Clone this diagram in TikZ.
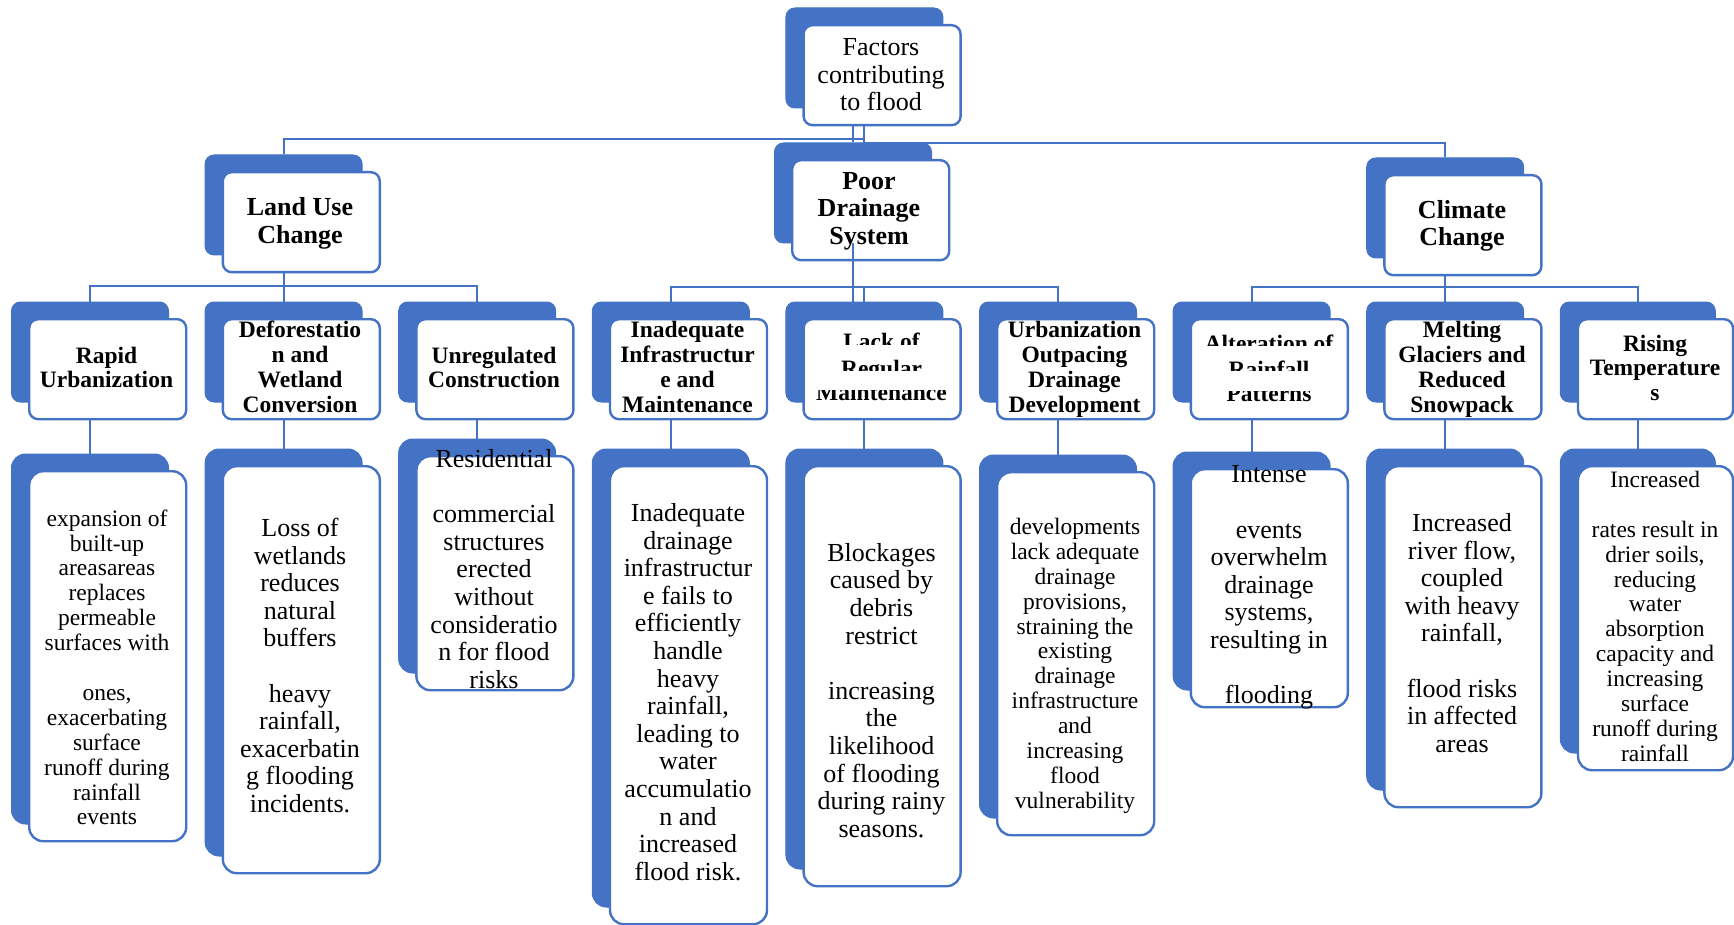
\documentclass[tikz,border=0pt]{standalone}
\usepackage{fontspec}
\setmainfont{Liberation Serif}
\definecolor{sablue}{HTML}{4472C4}
\tikzset{
  backbox/.style={draw=sablue, fill=sablue, line width=1pt, inner sep=0pt, anchor=north west},
  frontbox/.style={draw=sablue, fill=white, line width=2.4pt, inner sep=0pt, anchor=north west},
  link/.style={draw=sablue, line width=2pt},
  txt/.style={align=center, inner sep=0pt, text=black,
    execute at begin node=\strut, execute at end node=\strut},
  roottext/.style={txt, font=\fontsize{26}{27.6}\selectfont},
  headtext/.style={txt, font=\bfseries\fontsize{26}{27.6}\selectfont},
  subtext/.style={txt, font=\bfseries\fontsize{23.5}{24.8}\selectfont},
  descbig/.style={txt, font=\fontsize{26}{27.6}\selectfont},
  descsmall/.style={txt, font=\fontsize{23.5}{24.9}\selectfont},
  cliptext/.style={inner sep=0pt, anchor=base, text=black, font=\bfseries\fontsize{23.5}{24.8}\selectfont},
}
% name, x, y (top-left of the white box), width, height, corner radius
\newcommand\pairbox[6]{%
  \node[backbox, rounded corners=#6pt, minimum width=#4pt, minimum height=#5pt] (#1B) at ({#2-17},{#3-16.5}) {};
  \node[frontbox, rounded corners=#6pt, minimum width=#4pt, minimum height=#5pt] (#1F) at (#2,#3) {};
}
\begin{document}
\begin{tikzpicture}[x=1pt, y=-1pt]
\useasboundingbox (0,0) rectangle (1734,925);

% ---- boxes ----
\pairbox{root}{802.4}{24}{157}{100}{9}
\pairbox{lu}{221.6}{171}{157}{100}{9}
\pairbox{pd}{791}{159}{157}{100}{9}
\pairbox{cc}{1383.2}{174}{157}{100}{9}

\pairbox{ru}{28}{318}{157}{100}{9}
\pairbox{dw}{221.6}{318}{157}{100}{9}
\pairbox{uc}{415.2}{318}{157}{100}{9}
\pairbox{ii}{608.8}{318}{157}{100}{9}
\pairbox{lm}{802.4}{318}{157}{100}{9}
\pairbox{uo}{996}{318}{157}{100}{9}
\pairbox{ar}{1189.6}{318}{157}{100}{9}
\pairbox{mg}{1383.2}{318}{157}{100}{9}
\pairbox{rt}{1576.8}{318}{155}{100}{9}

\pairbox{ruD}{28}{470}{157}{370}{14}
\pairbox{dwD}{221.6}{465}{157}{407}{14}
\pairbox{ucD}{415.2}{455}{157}{234}{14}
\pairbox{iiD}{608.8}{465}{157}{458}{14}
\pairbox{lmD}{802.4}{465}{157}{420}{14}
\pairbox{uoD}{996}{471}{157}{363}{14}
\pairbox{arD}{1189.6}{468}{157}{238}{14}
\pairbox{mgD}{1383.2}{465}{157}{341}{14}
\pairbox{rtD}{1576.8}{465}{155}{304}{14}

% ---- connectors ----
\draw[link] (rootB.center |- rootF.south) -- (rootB.center |- 0,143) -- (ccB.center |- 0,143) -- (ccB.north);
\draw[link] (pdB.center |- rootF.south) -- (pdB.north);
\draw[link] (rootB.center |- 0,139) -- (luB.center |- 0,139) -- (luB.north);

\draw[link] (luB.center |- luF.south) -- (luB.center |- 0,286);
\draw[link] (ruB.north) -- (ruB.center |- 0,286) -- (ucB.center |- 0,286) -- (ucB.north);
\draw[link] (dwB.north) -- (dwB.center |- 0,286);

\draw[link] (pdB.center |- 0,243) -- (pdB.center |- lmB.north);
\draw[link] (iiB.north) -- (iiB.center |- 0,287) -- (uoB.center |- 0,287) -- (uoB.north);
\draw[link] (lmB.north) -- (lmB.center |- 0,287);

\draw[link] (ccB.center |- ccF.south) -- (ccB.center |- 0,287);
\draw[link] (arB.north) -- (arB.center |- 0,287) -- (rtB.center |- 0,287) -- (rtB.north);
\draw[link] (mgB.north) -- (mgB.center |- 0,287);

\foreach \n in {ru,dw,uc,ii,lm,uo,ar,mg,rt}
  \draw[link] (\n B.center |- \n F.south) -- (\n DB.north);

% ---- top levels ----
\node[roottext] (rootT) at (881,79) {Factors\\contributing\\to flood};
\node[headtext] (luT) at (300,224.5) {Land Use\\Change};
\node[headtext] (pdT) at (869,212.5) {Poor\\Drainage\\System};
\node[headtext] (ccT) at (1462,227) {Climate\\Change};

% ---- second level ----
\node[subtext] (ruT) at (106.5,371) {Rapid\\Urbanization};
\node[subtext] (dwT) at (300,370.5) {Deforestatio\\n and\\Wetland\\Conversion};
\node[subtext] (ucT) at (494,371) {Unregulated\\Construction};
\node[subtext] (iiT) at (687.5,370.5) {Inadequate\\Infrastructur\\e and\\Maintenance};
\node[subtext] (uoT) at (1074.5,370.5) {Urbanization\\Outpacing\\Drainage\\Development};
\node[subtext] (mgT) at (1462,370.5) {Melting\\Glaciers and\\Reduced\\Snowpack};
\node[subtext] (rtT) at (1655,371.5) {Rising\\Temperature\\s};

% headings whose lines are partly hidden
\begin{scope}
  \clip (803,325) rectangle (960,344);
  \node[cliptext] (lmT1) at (881.5,349) {Lack of};
\end{scope}
\begin{scope}
  \clip (803,352) rectangle (960,370);
  \node[cliptext] (lmT2) at (881.5,376) {Regular};
\end{scope}
\begin{scope}
  \clip (803,390) rectangle (960,410);
  \node[cliptext] (lmT3) at (881.5,400) {Maintenance};
\end{scope}
\begin{scope}
  \clip (1191,325) rectangle (1347,345);
  \node[cliptext] (arT1) at (1269,351) {Alteration of};
\end{scope}
\begin{scope}
  \clip (1191,352) rectangle (1347,370);
  \node[cliptext] (arT2) at (1269,377) {Rainfall};
\end{scope}
\begin{scope}
  \clip (1191,391) rectangle (1347,410);
  \node[cliptext] (arT3) at (1269,401) {Patterns};
\end{scope}

% ---- descriptions ----
\node[descsmall] (ruDT) at (107,671) {expansion of\\built-up\\areasareas\\replaces\\permeable\\surfaces with\\ \\ones,\\exacerbating\\surface\\runoff during\\rainfall\\events};
\node[descbig] (dwDT) at (300,669.5) {Loss of\\wetlands\\reduces\\natural\\buffers\\ \\heavy\\rainfall,\\exacerbatin\\g flooding\\incidents.};
\node[descbig] (ucDT) at (494,573) {Residential\\ \\commercial\\structures\\erected\\without\\consideratio\\n for flood\\risks};
\node[descbig] (iiDT) at (688,696) {Inadequate\\drainage\\infrastructur\\e fails to\\efficiently\\handle\\heavy\\rainfall,\\leading to\\water\\accumulatio\\n and\\increased\\flood risk.};
\node[descbig] (lmDT) at (881.5,694.5) {Blockages\\caused by\\debris\\restrict\\ \\increasing\\the\\likelihood\\of flooding\\during rainy\\seasons.};
\node[descsmall] (uoDT) at (1075,667) {developments\\lack adequate\\drainage\\provisions,\\straining the\\existing\\drainage\\infrastructure\\and\\increasing\\flood\\vulnerability};
\node[descbig] (arDT) at (1269,589) {Intense\\ \\events\\overwhelm\\drainage\\systems,\\resulting in\\ \\flooding};
\node[descbig] (mgDT) at (1462,637) {Increased\\river flow,\\coupled\\with heavy\\rainfall,\\ \\flood risks\\in affected\\areas};
\node[descsmall] (rtDT) at (1655,620) {Increased\\ \\rates result in\\drier soils,\\reducing\\water\\absorption\\capacity and\\increasing\\surface\\runoff during\\rainfall};
\end{tikzpicture}
\end{document}
